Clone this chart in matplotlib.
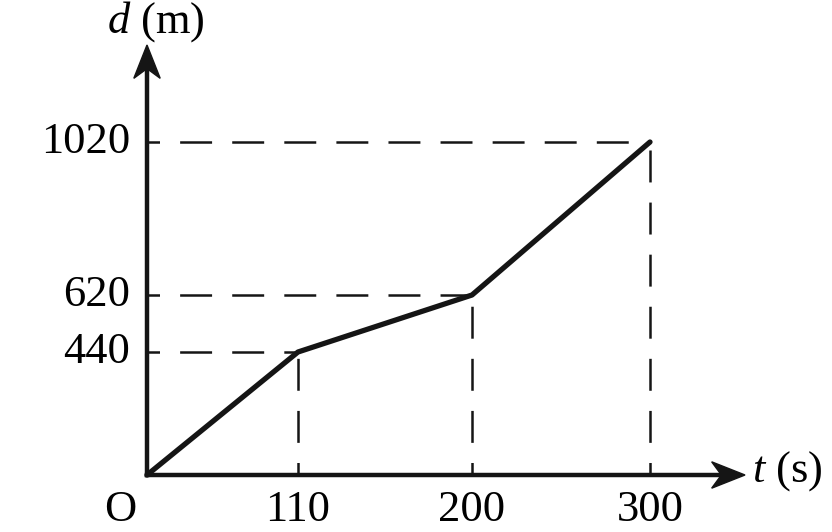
import numpy as np
import matplotlib
matplotlib.use("Agg")
import matplotlib.pyplot as plt
from matplotlib.patches import Polygon
from matplotlib import transforms as mtransforms

# ---- data ----
t_values = [0, 110, 200, 300]          # time (s)
d_values = [0, 440, 620, 1020]         # distance (m)
x_tick_labels = ["110", "200", "300"]
y_tick_labels = ["440", "620", "1020"]

plt.rcParams['font.family'] = ['Liberation Serif', 'DejaVu Serif']
plt.rcParams['mathtext.fontset'] = 'custom'
plt.rcParams['mathtext.rm'] = 'Liberation Serif'
plt.rcParams['mathtext.it'] = 'Liberation Serif:italic'
plt.rcParams['lines.scale_dashes'] = False

W, H = 832, 532
INK = '#151515'
# schematic (non-uniform) axis spacing of the drawing: data anchor -> pixel
x_anchor_px = [147, 298, 472, 650]
y_anchor_px = [532 - 475, 532 - 352, 532 - 295, 532 - 142]


def make_pw(src, dst):
    src = np.asarray(src, float)
    dst = np.asarray(dst, float)

    def f(v):
        v = np.asarray(v, float)
        out = np.interp(v, src, dst)
        s0 = (dst[1] - dst[0]) / (src[1] - src[0])
        s1 = (dst[-1] - dst[-2]) / (src[-1] - src[-2])
        out = np.where(v < src[0], dst[0] + (v - src[0]) * s0, out)
        out = np.where(v > src[-1], dst[-1] + (v - src[-1]) * s1, out)
        return out
    return f


fx, ifx = make_pw(t_values, x_anchor_px), make_pw(x_anchor_px, t_values)
fy, ify = make_pw(d_values, y_anchor_px), make_pw(y_anchor_px, d_values)

fig = plt.figure(figsize=(W / 100, H / 100), dpi=100)
ax = fig.add_axes([0, 0, 1, 1])
ax.set_xscale('function', functions=(fx, ifx))
ax.set_yscale('function', functions=(fy, ify))
ax.set_xlim(float(ifx(0)), float(ifx(W)))
ax.set_ylim(float(ify(0)), float(ify(H)))
ax.axis('off')

dash_style = (14, (23, 14.5))
# guide lines
for t, d in zip(t_values[1:], d_values[1:]):
    ax.plot([0, t], [d, d], color=INK, lw=1.8, linestyle=dash_style, zorder=1)
    ax.plot([t, t], [0, d], color=INK, lw=1.8, linestyle=dash_style, zorder=1)

# data line
ax.plot(t_values, d_values, color=INK, lw=3.8, solid_joinstyle='round',
        solid_capstyle='round', zorder=3)

# axes lines
x_end = float(ifx(730))
y_end = float(ify(532 - 60))
ax.plot([0, x_end], [0, 0], color=INK, lw=3.2, solid_capstyle='projecting', zorder=4)
ax.plot([0, 0], [0, y_end], color=INK, lw=3.2, solid_capstyle='projecting', zorder=4)

# stealth-like arrowheads (in points, relative to tip)
head = np.array([[0, 0], [-24, 9.5], [-17, 0], [-24, -9.5]])


def arrowhead(tip_data, angle):
    tip = ax.transData.transform(tip_data)
    tr = (mtransforms.Affine2D().rotate_deg(angle).scale(fig.dpi / 72.0)
          .translate(*tip))
    ax.add_patch(Polygon(head, closed=True, transform=tr, facecolor=INK,
                         edgecolor=INK, lw=1, zorder=5))


arrowhead((float(ifx(745)), 0), 0)
arrowhead((0, float(ify(532 - 45))), 90)

fs = 32
for t, lab in zip(t_values[1:], x_tick_labels):
    ax.text(t, float(ify(532 - 510)), lab, ha='center', va='center', fontsize=fs)
for d, lab in zip(d_values[1:], y_tick_labels):
    ax.text(float(ifx(130)), d, lab, ha='right', va='center', fontsize=fs)
ax.text(float(ifx(120)), float(ify(532 - 510)), 'O', ha='center', va='center', fontsize=fs)
ax.text(float(ifx(752)), float(ify(532 - 471)), r'$t$ (s)', ha='left', va='center', fontsize=fs)
ax.text(float(ifx(156)), float(ify(532 - 22)), r'$d$ (m)', ha='center', va='center', fontsize=fs)

fig.savefig('out.png', dpi=100)
